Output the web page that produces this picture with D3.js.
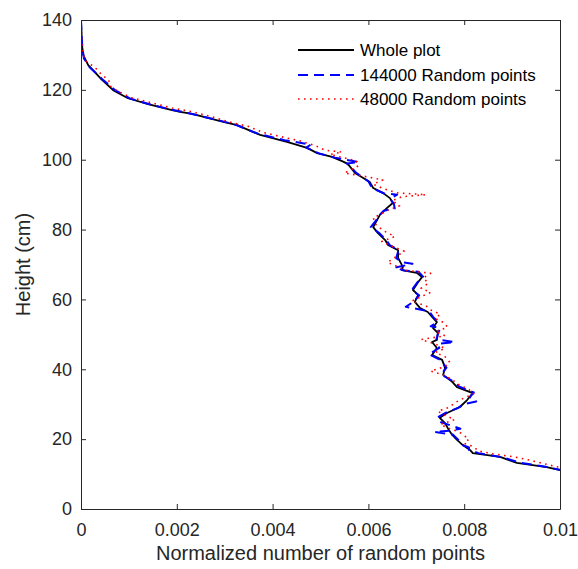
<!DOCTYPE html>
<html><head><meta charset="utf-8">
<script src="https://cdn.jsdelivr.net/npm/d3@7"></script>
<style>body{margin:0;background:#fff}svg{display:block;font-family:"Liberation Sans",Arial,sans-serif}</style>
</head><body><svg id="c" width="578" height="569"></svg>
<script>
// ---- data ----
const xTicks = [0, 0.002, 0.004, 0.006, 0.008, 0.01];
const xTickLabels = ["0", "0.002", "0.004", "0.006", "0.008", "0.01"];
const yTicks = [0, 20, 40, 60, 80, 100, 120, 140];
const seriesNames = ["Whole plot", "144000 Random points", "48000 Random points"];

const wholeH = [140,137.1,132.8,129.9,127.1,123.4,119.9,117.6,115.9,114.2,113.7,113.1,110.8,109.9,107.1,105.1,103.4,101.9,100.8,99.6,98.8,97.6,96.2,93.6,91.9,90.5,89.0,87.6,86.2,84.2,82.7,80.7,79.0,77.0,75.6,74.1,71.9,69.3,68.4,67.6,66.4,65.0,62.7,61.3,59.3,57.5,56.4,55.0,53.5,51.8,50.4,48.4,47.8,46.1,44.1,42.7,40.4,38.4,36.4,34.9,33.2,31.2,29.2,27.5,26.1,24.6,22.6,21.2,19.8,18.3,16.9,16.0,14.9,13.2,12.0,11.2,10.9];
const wholeV = [0,0.00001,0.00002,0.00005,0.00015,0.0004,0.00067,0.00098,0.0014,0.0019,0.00207,0.00232,0.00297,0.00326,0.00374,0.0043,0.00472,0.00493,0.00524,0.00545,0.00557,0.00564,0.00572,0.00603,0.0061,0.0063,0.00645,0.00651,0.00639,0.00624,0.00618,0.0061,0.0062,0.00635,0.00641,0.00662,0.00662,0.00672,0.0067,0.00701,0.00712,0.00704,0.00693,0.00704,0.00697,0.00708,0.00724,0.00733,0.00743,0.00735,0.00745,0.00743,0.00733,0.00743,0.00733,0.00754,0.0076,0.00756,0.00775,0.00785,0.00818,0.00806,0.00791,0.00764,0.00749,0.0076,0.00768,0.00775,0.00785,0.00797,0.00812,0.00818,0.00875,0.0091,0.00972,0.00998,0.0102];

const blueH = [140,136,132,129,126.5,123,120,117.5,115.8,114.3,113.3,111.2,110.0,107.4,105.6,104.3,103.5,101.8,100.6,99.3,98.9,97.7,96.3,93.8,91.8,90.4,90.0,88.8,87.5,86.0,85.4,84.0,82.6,80.7,79.1,77.2,75.5,74.2,71.8,70.6,70.2,69.1,68.3,67.9,66.5,65.0,62.6,61.2,59.3,57.9,56.9,56.4,55.0,53.6,52.3,51.8,50.5,48.6,47.8,47.3,46.1,44.3,42.7,40.5,38.5,36.5,35.0,33.4,32.0,30.8,30.0,29.0,27.6,26.3,25.0,23.0,22.4,22.1,21.3,19.9,18.4,17.6,16.9,16.0,14.8,13.3,12.1,11.2,10.9];
const blueV = [0,0.00001,0.00003,0.00006,0.00018,0.00045,0.0007,0.00103,0.00145,0.0019,0.00225,0.0029,0.00323,0.0037,0.00425,0.0048,0.0047,0.00497,0.0053,0.0058,0.00555,0.00565,0.00574,0.006,0.00608,0.00632,0.0066,0.00645,0.00653,0.00655,0.00632,0.00622,0.00616,0.00605,0.00622,0.00636,0.00645,0.00663,0.00658,0.00672,0.00692,0.00655,0.00675,0.00705,0.00714,0.00703,0.0069,0.00706,0.00694,0.00678,0.00715,0.00728,0.00735,0.00745,0.0073,0.0075,0.00746,0.00742,0.0078,0.00745,0.00748,0.00726,0.0075,0.00763,0.00752,0.00778,0.0079,0.0082,0.00812,0.00825,0.008,0.00788,0.00762,0.00745,0.00748,0.00792,0.00768,0.00738,0.00776,0.00787,0.00795,0.0081,0.0081,0.0083,0.0088,0.00915,0.0097,0.01,0.0102];

const redH = [140,135,131,128.5,126.3,124.5,122.8,121.2,119.5,117.8,116.2,114.8,113.8,112.4,110.8,109.5,107.8,106.2,105.3,104.0,102.7,102.2,101.5,100.5,99.7,98.3,96.2,95.3,94.2,93.0,91.8,90.5,90.0,89.4,88.3,86.8,85.5,84.3,83.4,81.5,79.8,78.0,76.6,75.2,73.8,72.0,70.6,69.2,68.3,67.5,66.2,64.6,63.2,62.0,60.8,59.5,58.2,57.0,55.8,54.5,53.2,52.0,50.8,49.6,48.5,47.2,46.0,44.8,43.6,42.0,40.8,39.5,38.2,37.0,35.5,34.2,33.0,31.8,30.4,29.2,28.0,26.8,25.6,24.2,23.0,22.0,21.0,20.0,18.8,17.8,16.6,15.8,15.0,14.2,13.2,12.2,11.6];
const redV = [0,0.00001,0.00003,0.00008,0.0003,0.00042,0.00058,0.0006,0.00078,0.00105,0.0015,0.0019,0.0023,0.0027,0.0031,0.0035,0.0038,0.0043,0.0046,0.0049,0.0051,0.00545,0.0052,0.0055,0.00575,0.0058,0.0055,0.0059,0.0063,0.0061,0.0063,0.0066,0.0072,0.0067,0.0065,0.00665,0.0064,0.00625,0.0061,0.00615,0.0063,0.00655,0.00628,0.0065,0.00675,0.00655,0.0064,0.00665,0.0068,0.0073,0.00715,0.00725,0.0071,0.0073,0.0071,0.0069,0.0072,0.0073,0.0075,0.0074,0.0076,0.00765,0.0074,0.0076,0.0071,0.0074,0.0076,0.0074,0.0076,0.0077,0.0076,0.0073,0.0076,0.00775,0.0079,0.0081,0.0082,0.008,0.0078,0.0077,0.00745,0.0076,0.0078,0.0075,0.0077,0.0079,0.008,0.0081,0.008,0.0082,0.0083,0.0086,0.009,0.0093,0.0096,0.0099,0.0101];

// ---- layout ----
const svg = d3.select("#c");
const L = 81, R = 560, T = 20, B = 509;
const ink = "#262626";
const x = d3.scaleLinear().domain([0, 0.01]).range([L, R]);
const y = d3.scaleLinear().domain([0, 140]).range([B, T]);

svg.append("defs").append("clipPath").attr("id", "clip")
  .append("rect").attr("x", L).attr("y", T).attr("width", R - L).attr("height", B - T);

const series = [
  {h: wholeH, v: wholeV, color: "#000000", dash: null, w: 1.8},
  {h: blueH, v: blueV, color: "#0000ff", dash: "10,6", w: 2},
  {h: redH, v: redV, color: "#ff0000", dash: "1.6,4.4", w: 1.6}
];
const line = d3.line().x(d => x(d[0])).y(d => y(d[1]));
const g = svg.append("g").attr("clip-path", "url(#clip)");
series.forEach(s => {
  const pts = s.v.map((v, i) => [v, s.h[i]]);
  g.append("path").attr("d", line(pts)).attr("fill", "none")
    .attr("stroke", s.color).attr("stroke-width", s.w)
    .attr("stroke-dasharray", s.dash).attr("stroke-linejoin", "round");
});

// axes (MATLAB style box, inward ticks)
const fmtX = (d, i) => xTickLabels[i];
svg.append("g").attr("transform", `translate(0,${B})`)
  .call(d3.axisBottom(x).tickValues(xTicks).tickFormat(fmtX).tickSizeInner(-5).tickSizeOuter(0).tickPadding(14));
svg.append("g").attr("transform", `translate(0,${T})`)
  .call(d3.axisTop(x).tickValues(xTicks).tickFormat("").tickSizeInner(-5).tickSizeOuter(0));
svg.append("g").attr("transform", `translate(${L},0)`)
  .call(d3.axisLeft(y).tickValues(yTicks).tickSizeInner(-5).tickSizeOuter(0).tickPadding(9));
svg.append("g").attr("transform", `translate(${R},0)`)
  .call(d3.axisRight(y).tickValues(yTicks).tickFormat("").tickSizeInner(-5).tickSizeOuter(0));
svg.selectAll(".domain").attr("stroke", ink).attr("stroke-width", 1);
svg.selectAll(".tick line").attr("stroke", ink);
svg.selectAll(".tick text").attr("fill", ink).attr("font-size", 18)
  .attr("font-family", '"Liberation Sans",Arial,sans-serif');

// axis labels
svg.append("text").attr("x", (L + R) / 2).attr("y", 560).attr("text-anchor", "middle")
  .attr("font-size", 20).attr("fill", ink).text("Normalized number of random points");
svg.append("text").attr("transform", `translate(30,${(T + B) / 2}) rotate(-90)`).attr("text-anchor", "middle")
  .attr("font-size", 20).attr("fill", ink).text("Height (cm)");

// legend
const legY = [50, 75, 99];
series.forEach((s, i) => {
  svg.append("line").attr("x1", 298).attr("x2", 354).attr("y1", legY[i]).attr("y2", legY[i])
    .attr("stroke", s.color).attr("stroke-width", s.w).attr("stroke-dasharray", s.dash);
  svg.append("text").attr("x", 360).attr("y", legY[i]).attr("dy", "0.35em")
    .attr("font-size", 17).attr("fill", "#000").text(seriesNames[i]);
});
</script></body></html>
